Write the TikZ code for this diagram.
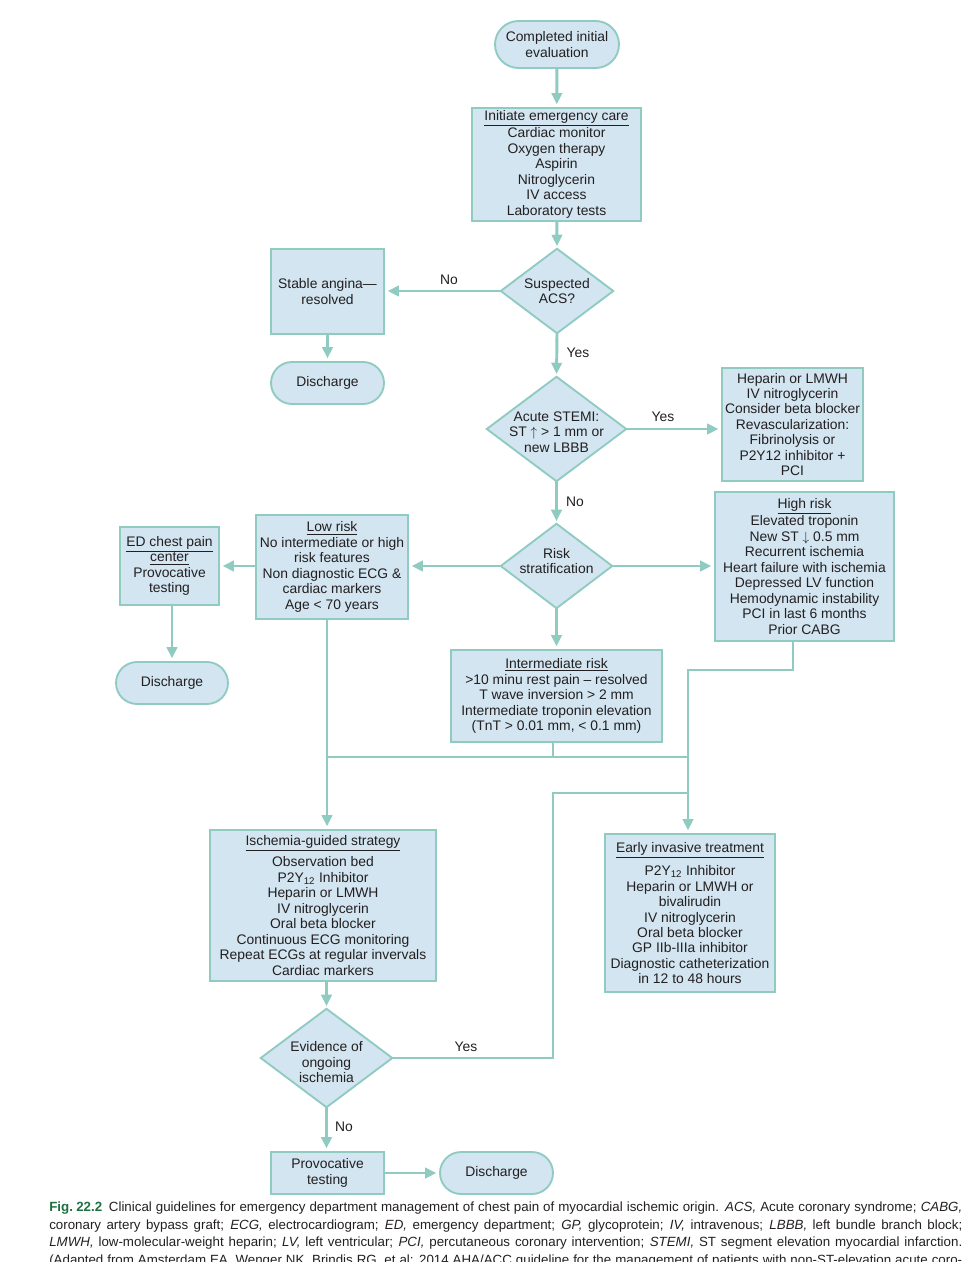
\documentclass[tikz,border=0pt]{standalone}
\usepackage{fontspec}
\setmainfont{Liberation Sans}
\usetikzlibrary{arrows.meta,backgrounds,calc}
\definecolor{bfill}{HTML}{D2E5F1}
\definecolor{bline}{HTML}{8FCBC0}
\definecolor{txt}{HTML}{231F20}
\definecolor{figgreen}{HTML}{1E7040}
\tikzset{
  box/.style={draw=bline, fill=bfill, line width=1.4pt, inner sep=0pt, align=center},
  term/.style={box, rounded corners=15.75pt},
  dia/.style={inner sep=0pt, align=center},
  diashape/.style={draw=bline, fill=bfill, line width=1.4pt},
  conn/.style={draw=bline, line width=2.2pt, -{Triangle[length=8.5pt,width=7.8pt]}, shorten >=2pt},
  wire/.style={draw=bline, line width=2.2pt},
  lab/.style={inner sep=0pt},
  basefont/.style={text=txt, font=\fontsize{10.4}{11.6}\selectfont}
}
\begin{document}
\begin{tikzpicture}[x=0.75pt,y=-0.75pt, every node/.style={basefont}]
\useasboundingbox (0,0) rectangle (975,1262);
\clip (0,0) rectangle (975,1262);

% nodes
\node[term, minimum width=93pt, minimum height=35.25pt, rounded corners=17.6pt] (comp) at (557,44.5) {Completed initial\\evaluation};
\node[box, minimum width=126.75pt, minimum height=84.75pt] (init) at (556.5,164.5) {\underline{Initiate emergency care}\\Cardiac monitor\\Oxygen therapy\\Aspirin\\Nitroglycerin\\IV access\\Laboratory tests};
\node[dia, minimum width=84pt, minimum height=63pt] (acs) at (557,291) {Suspected\\ACS?};
\node[box, minimum width=84.75pt, minimum height=63.75pt] (stable) at (327.5,291.5) {Stable angina—\\resolved};
\node[term, minimum width=84.75pt, minimum height=31.5pt] (dis1) at (327.5,383) {Discharge};
\node[dia, minimum width=104.25pt, minimum height=78pt] (stemi) at (556.5,429) {\rule{0pt}{12pt}Acute STEMI:\\ST $\uparrow$ > 1 mm or\\new LBBB};
\node[box, minimum width=105.75pt, minimum height=84.75pt] (hep) at (792.5,424.5) {Heparin or LMWH\\IV nitroglycerin\\Consider beta blocker\\Revascularization:\\Fibrinolysis or\\P2Y12 inhibitor +\\PCI};
\node[dia, minimum width=83.25pt, minimum height=63pt] (risk) at (556.5,566) {Risk\\stratification\\[-4.1pt]};
\node[box, minimum width=114pt, minimum height=78pt] (low) at (332,567) {\underline{Low risk}\\No intermediate or high\\risk features\\Non diagnostic ECG \&\\cardiac markers\\Age < 70 years};
\node[box, minimum width=74.25pt, minimum height=58.5pt] (ed) at (169.5,566) {\underline{ED chest pain}\\\underline{center}\\Provocative\\testing};
\node[term, minimum width=84pt, minimum height=31.5pt] (dis2) at (172,683) {Discharge};
\node[box, minimum width=134.25pt, minimum height=111.75pt] (high) at (804.5,566.5) {\underline{High risk}\\Elevated troponin\\New ST $\downarrow$ 0.5 mm\\Recurrent ischemia\\Heart failure with ischemia\\Depressed LV function\\Hemodynamic instability\\PCI in last 6 months\\Prior CABG};
\node[box, minimum width=158.25pt, minimum height=69pt] (inter) at (556.5,696) {\underline{Intermediate risk}\\>10 minu rest pain – resolved\\T wave inversion > 2 mm\\Intermediate troponin elevation\\(TnT > 0.01 mm, < 0.1 mm)};
\node[box, minimum width=169.5pt, minimum height=113.25pt] (isch) at (323,905.5) {\underline{Ischemia-guided strategy}\\[3pt]Observation bed\\P2Y\textsubscript{12} Inhibitor\\Heparin or LMWH\\IV nitroglycerin\\Oral beta blocker\\Continuous ECG monitoring\\Repeat ECGs at regular invervals\\Cardiac markers};
\node[box, minimum width=127.5pt, minimum height=118.5pt] (early) at (690,913) {\underline{Early invasive treatment}\\[5pt]P2Y\textsubscript{12} Inhibitor\\Heparin or LMWH or\\bivalirudin\\IV nitroglycerin\\Oral beta blocker\\GP IIb-IIIa inhibitor\\Diagnostic catheterization\\in 12 to 48 hours};
\node[dia, minimum width=98.25pt, minimum height=73.5pt] (evid) at (326.5,1058) {\rule{0pt}{13.6pt}Evidence of\\ongoing\\ischemia};
\node[box, minimum width=84.75pt, minimum height=31.5pt] (prov) at (327.5,1173) {Provocative\\testing};
\node[term, minimum width=84.75pt, minimum height=31.5pt] (dis3) at (496.5,1173) {Discharge};

% diamond outlines behind text
\begin{scope}[on background layer]
\path[diashape] (acs.north) -- (acs.east) -- (acs.south) -- (acs.west) -- cycle;
\path[diashape] (stemi.north) -- (stemi.east) -- (stemi.south) -- (stemi.west) -- cycle;
\path[diashape] (risk.north) -- (risk.east) -- (risk.south) -- (risk.west) -- cycle;
\path[diashape] (evid.north) -- (evid.east) -- (evid.south) -- (evid.west) -- cycle;
\end{scope}

% junction coordinates
\coordinate (jl) at (327,757);
\coordinate (ji) at (553,757);
\coordinate (jr) at (688,757);
\coordinate (hbend) at (793,670);
\coordinate (ybend) at (553,793);

% connectors
\draw[conn] (comp) -- (init);
\draw[conn] (init) -- (acs.north);
\draw[conn] (acs.west) -- (acs.west -| stable.east);
\draw[conn] (stable) -- (dis1);
\draw[conn] (acs.south) -- (stemi.north);
\draw[conn] (stemi.east) -- (stemi.east -| hep.west);
\draw[conn] (stemi.south) -- (risk.north);
\draw[conn] (risk.west) -- (risk.west -| low.east);
\draw[conn] (low.west |- ed.east) -- (ed.east);
\draw[conn] (ed.south -| dis2.north) -- (dis2.north);
\draw[conn] (risk.east) -- (risk.east -| high.west);
\draw[conn] (risk.south) -- (inter.north);
\draw[conn] (jl |- low.south) -- (jl |- isch.north);
\draw[wire] (ji |- inter.south) -- (ji);
\draw[wire] (jl) -- (jr);
\draw[conn] (hbend |- high.south) -- (hbend) -| (jr |- early.north);
\draw[wire] (evid.east) -- (ybend |- evid.east) -- (ybend) -- (ybend -| jr);
\draw[conn] (evid.north |- isch.south) -- (evid.north);
\draw[conn] (evid.south) -- (evid.south |- prov.north);
\draw[conn] (prov) -- (dis3);

% labels
\node[lab] (l1) at (449,280) {No};
\node[lab] (l2) at (578,353) {Yes};
\node[lab] (l3) at (663,417) {Yes};
\node[lab] (l4) at (575,502) {No};
\node[lab] (l5) at (466,1047) {Yes};
\node[lab] (l6) at (344,1127) {No};

% caption
\node[anchor=north west, inner sep=0pt, text width=684.75pt, align=justify,
      font=\fontsize{10}{13.1}\selectfont] (cap) at (49,1202)
{\hyphenpenalty=10000\tolerance=9999\textcolor{figgreen}{\textbf{Fig.\kern0.25em22.2}}\enspace Clinical guidelines for emergency department management of chest pain of myocardial ischemic origin. \textit{ACS,} Acute coronary syndrome; \textit{CABG,}\linebreak
coronary artery bypass graft; \textit{ECG,} electrocardiogram; \textit{ED,} emergency department; \textit{GP,} glycoprotein; \textit{IV,} intravenous; \textit{LBBB,} left bundle branch block;\linebreak
\textit{LMWH,} low-molecular-weight heparin; \textit{LV,} left ventricular; \textit{PCI,} percutaneous coronary intervention; \textit{STEMI,} ST segment elevation myocardial infarction.\linebreak
(Adapted from Amsterdam EA, Wenger NK, Brindis RG, et al: 2014 AHA/ACC guideline for the management of patients with non-ST-elevation acute coro-\linebreak};
\end{tikzpicture}
\end{document}
